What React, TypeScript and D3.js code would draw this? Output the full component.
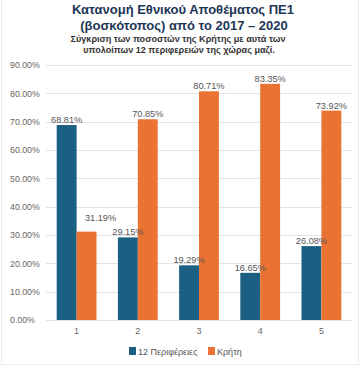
import React from "react";
import * as d3 from "d3";

// τιμές από το γράφημα (%)
const categories = ["1", "2", "3", "4", "5"];
const periferies = [68.81, 29.15, 19.29, 16.65, 26.08];
const kriti = [31.19, 70.85, 80.71, 83.35, 73.92];
const yTicks = [0, 10, 20, 30, 40, 50, 60, 70, 80, 90];
const seriesNames = ["12 Περιφέρειες", "Κρήτη"];
const seriesColors = ["#1b5f82", "#ea7232"];

const W = 361;
const H = 366;
const font = "Arial, 'Liberation Sans', sans-serif";

const App = () => {
  const x = d3.scaleBand().domain(categories).range([46, 352]).paddingInner(0.35).paddingOuter(0.175);
  const x1 = d3.scaleBand().domain(["0", "1"]).range([0, x.bandwidth()]);
  const y = d3.scaleLinear().domain([0, 90]).range([320, 65]);

  const fmt = (v: number) => v.toFixed(2) + "%";

  // ετικέτες τιμών, με απλό έλεγχο επικάλυψης
  const labels: { x: number; y: number; text: string }[] = [];
  categories.forEach((c, i) => {
    [periferies[i], kriti[i]].forEach((v, s) => {
      labels.push({ x: x(c)! + x1(String(s))! + x1.bandwidth() / 2, y: y(v) - 2, text: fmt(v) });
    });
  });
  const lw = 30;
  labels.forEach((a, i) => {
    labels.forEach((b, j) => {
      if (j <= i) return;
      const hx = Math.abs(a.x - b.x) < lw + 14;
      const hy = Math.abs(a.y - b.y) < 10;
      if (hx && hy) {
        // η ψηλότερη μπάρα (κάτω ετικέτα) μένει, η άλλη ανεβαίνει
        const up = a.y < b.y ? a : b;
        up.y -= 9;
        up.x += 14;
      }
    });
  });

  return (
    <svg width={W} height={H} style={{ position: "absolute", left: 0, top: 0, background: "#fff" }}>
      {/* πλαίσιο */}
      <line x1={1.5} x2={1.5} y1={0} y2={364.5} stroke="#ececec" />
      <line x1={358.5} x2={358.5} y1={0} y2={364.5} stroke="#ececec" />
      <line x1={1.5} x2={358.5} y1={364.5} y2={364.5} stroke="#ececec" />

      <g fontFamily={font} fontWeight="bold" textAnchor="middle">
        <text x={183} y={13.5} fontSize={13} fill="#1d3656">Κατανομή Εθνικού Αποθέματος ΠΕ1</text>
        <text x={184} y={29.5} fontSize={13} fill="#1d3656">(βοσκότοπος) από το 2017 – 2020</text>
        <text x={178} y={42} fontSize={9.1} fill="#333">Σύγκριση των ποσοστών της Κρήτης με αυτά των</text>
        <text x={179} y={53} fontSize={9.1} fill="#333">υπολοίπων 12 περιφερειών της χώρας μαζί.</text>
      </g>

      {yTicks.map((t) => (
        <g key={t}>
          <line x1={46} x2={352} y1={Math.round(y(t)) + 0.5} y2={Math.round(y(t)) + 0.5} stroke="#e3e3e3" />
          <text x={10} y={y(t) + 3.2} fontSize={8.8} fontFamily={font} fill="#666">
            {t.toFixed(2) + "%"}
          </text>
        </g>
      ))}

      {categories.map((c, i) => (
        <g key={c}>
          {[periferies[i], kriti[i]].map((v, s) => (
            <rect
              key={s}
              x={x(c)! + x1(String(s))!}
              y={y(v)}
              width={x1.bandwidth()}
              height={y(0) - y(v)}
              fill={seriesColors[s]}
            />
          ))}
          <text x={x(c)! + x.bandwidth() / 2} y={334} fontSize={9} fontFamily={font} fill="#666" textAnchor="middle">
            {c}
          </text>
        </g>
      ))}

      {labels.map((l, i) => (
        <text key={i} x={l.x} y={l.y} fontSize={9.2} fontFamily={font} fill="#555" textAnchor="middle">
          {l.text}
        </text>
      ))}

      <g fontFamily={font} fontSize={9} fill="#555">
        <rect x={129} y={347} width={7} height={8} fill={seriesColors[0]} />
        <text x={138} y={354.5}>{seriesNames[0]}</text>
        <rect x={208} y={347} width={7} height={8} fill={seriesColors[1]} />
        <text x={217} y={354.5}>{seriesNames[1]}</text>
      </g>
    </svg>
  );
};

export default App;
